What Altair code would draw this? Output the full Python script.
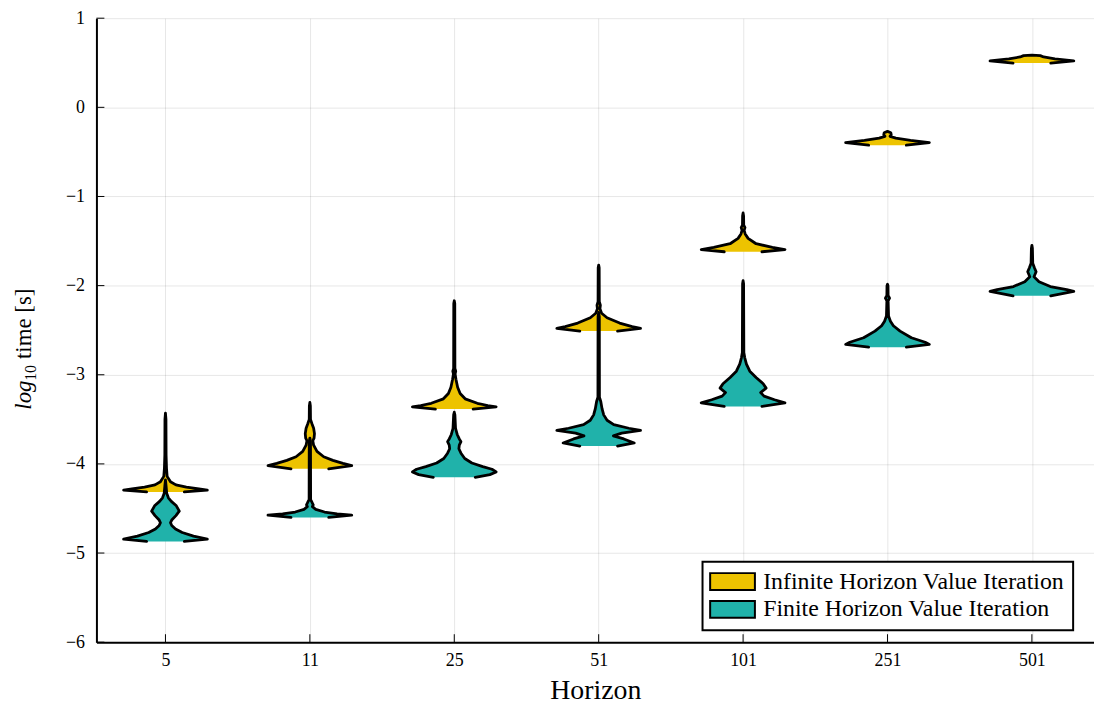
import json
import altair as alt
import pandas as pd

# ---------------- data ----------------
horizons = ["5", "11", "25", "51", "101", "251", "501"]
series = ["Infinite Horizon Value Iteration", "Finite Horizon Value Iteration"]
colors = ["#EDC300", "#20B2AA"]
y_ticks = [1, 0, -1, -2, -3, -4, -5, -6]

# violin profiles: log10 time levels (top -> bottom) and relative density width (max = 1)
inf_levels = [
    [-3.43, -3.50, -3.90, -4.05, -4.14, -4.20, -4.235, -4.26, -4.28, -4.295, -4.315],
    [-3.31, -3.35, -3.50, -3.55, -3.60, -3.66, -3.71, -3.74, -3.79, -3.86, -3.92, -3.96, -3.995, -4.02, -4.055],
    [-2.17, -2.20, -2.93, -2.96, -2.99, -3.05, -3.14, -3.21, -3.27, -3.32, -3.345, -3.36, -3.385],
    [-1.77, -1.80, -2.18, -2.22, -2.26, -2.31, -2.36, -2.42, -2.46, -2.48, -2.51],
    [-1.185, -1.22, -1.32, -1.35, -1.38, -1.42, -1.47, -1.53, -1.57, -1.595, -1.62],
    [-0.27, -0.285, -0.31, -0.325, -0.345, -0.37, -0.395, -0.425],
    [0.585, 0.58, 0.565, 0.545, 0.52, 0.497],
]
inf_widths = [
    [0.0, 0.012, 0.015, 0.025, 0.04, 0.12, 0.25, 0.5, 0.8, 1.0, 0.45],
    [0.0, 0.012, 0.015, 0.05, 0.09, 0.11, 0.10, 0.07, 0.09, 0.17, 0.33, 0.55, 0.79, 1.0, 0.45],
    [0.0, 0.012, 0.015, 0.035, 0.02, 0.04, 0.08, 0.14, 0.26, 0.55, 0.8, 1.0, 0.45],
    [0.0, 0.012, 0.015, 0.04, 0.03, 0.07, 0.20, 0.50, 0.80, 1.0, 0.45],
    [0.0, 0.012, 0.015, 0.045, 0.025, 0.05, 0.12, 0.31, 0.70, 1.0, 0.45],
    [0.0, 0.08, 0.09, 0.06, 0.20, 0.55, 1.0, 0.45],
    [0.0, 0.20, 0.28, 0.55, 1.0, 0.45],
]
fin_levels = [
    [-4.18, -4.25, -4.33, -4.38, -4.42, -4.47, -4.53, -4.58, -4.63, -4.66, -4.69, -4.73, -4.77, -4.81, -4.845, -4.87],
    [-3.71, -3.75, -4.40, -4.43, -4.46, -4.48, -4.51, -4.54, -4.56, -4.575, -4.60],
    [-3.42, -3.45, -3.60, -3.67, -3.72, -3.75, -3.79, -3.83, -3.88, -3.94, -3.99, -4.03, -4.06, -4.09, -4.12, -4.15],
    [-2.30, -2.35, -3.25, -3.30, -3.38, -3.45, -3.51, -3.56, -3.60, -3.625, -3.655, -3.685, -3.72, -3.765, -3.80],
    [-1.944, -1.98, -2.75, -2.81, -2.88, -2.96, -3.03, -3.10, -3.15, -3.20, -3.24, -3.28, -3.315, -3.355],
    [-1.985, -2.00, -2.11, -2.14, -2.17, -2.34, -2.40, -2.45, -2.51, -2.585, -2.635, -2.66, -2.69],
    [-1.548, -1.58, -1.75, -1.80, -1.845, -1.90, -1.956, -2.01, -2.045, -2.065, -2.115],
]
fin_widths = [
    [0.0, 0.015, 0.03, 0.07, 0.14, 0.26, 0.33, 0.25, 0.15, 0.12, 0.15, 0.24, 0.40, 0.67, 1.0, 0.45],
    [0.0, 0.015, 0.018, 0.05, 0.08, 0.06, 0.14, 0.35, 0.65, 1.0, 0.45],
    [0.0, 0.015, 0.03, 0.07, 0.12, 0.16, 0.12, 0.11, 0.16, 0.25, 0.42, 0.68, 0.90, 1.0, 0.85, 0.5],
    [0.0, 0.015, 0.018, 0.05, 0.08, 0.12, 0.20, 0.36, 0.72, 1.0, 0.55, 0.35, 0.60, 0.85, 0.45],
    [0.0, 0.012, 0.018, 0.04, 0.08, 0.16, 0.31, 0.48, 0.55, 0.42, 0.50, 0.75, 1.0, 0.45],
    [0.0, 0.012, 0.015, 0.05, 0.015, 0.025, 0.07, 0.14, 0.30, 0.57, 0.90, 1.0, 0.45],
    [0.0, 0.012, 0.02, 0.06, 0.10, 0.05, 0.17, 0.44, 0.83, 1.0, 0.45],
]

# ---------------- table ----------------
rows = []
for s, levels, widths in ((series[0], inf_levels, inf_widths), (series[1], fin_levels, fin_widths)):
    for i, h in enumerate(horizons):
        n = len(levels[i])
        for k, (v, w) in enumerate(zip(levels[i], widths[i])):
            rows.append({"series": s, "horizon": h, "pos": i, "value": v,
                         "dens": w, "k": k, "n": n})
df = pd.DataFrame(rows)
ticks_df = pd.DataFrame({"value": y_ticks})
xt_df = pd.DataFrame({"pos": list(range(len(horizons)))})

HALF = 0.29
FONT = "Liberation Serif"
W, H = 1004, 628
TOP = 8

x_scale = alt.Scale(domain=[-0.478, 6.43], nice=False, zero=False)
y_scale = alt.Scale(domain=[-6, 1], nice=False, zero=False)

label_expr = json.dumps(horizons) + "[datum.value]"
X_AXIS = alt.Axis(values=list(range(len(horizons))), labelExpr=label_expr,
                  title="Horizon", grid=True, ticks=False, tickSize=0,
                  labelPadding=9, titlePadding=8)
Y_AXIS = alt.Axis(values=y_ticks, title=None, grid=True,
                  labelExpr="datum.value < 0 ? '\u2212' + abs(datum.value) : '' + datum.value",
                  ticks=False, tickSize=0, labelPadding=12)


def X(field):
    return alt.X(field, scale=x_scale, axis=X_AXIS)


def Y(field):
    return alt.Y(field, scale=y_scale, axis=Y_AXIS)


def area_layer(s):
    return alt.Chart(df).transform_filter(
        alt.datum.series == s
    ).transform_calculate(
        lo=f"datum.pos - {HALF} * datum.dens",
        hi=f"datum.pos + {HALF} * datum.dens",
    ).mark_area(orient="horizontal", opacity=1).encode(
        y=Y("value:Q"),
        x=X("lo:Q"),
        x2="hi:Q",
        detail="horizon:N",
        color=alt.Color(
            "series:N",
            scale=alt.Scale(domain=series, range=colors),
            legend=alt.Legend(
                title=None, orient="none", legendX=610, legendY=547,
                direction="vertical",
                symbolType="M-1.45,-1H3.85V1H-1.45Z", symbolSize=289,
                symbolStrokeColor="black", symbolStrokeWidth=2, symbolOpacity=1,
                labelFont=FONT, labelFontSize=24, labelColor="black", labelLimit=600,
                labelOffset=29, rowPadding=2,
                fillColor="white", strokeColor="black", padding=8,
            ),
        ),
    )


def edge_layer(s):
    return alt.Chart(df).transform_filter(
        alt.datum.series == s
    ).transform_calculate(
        left=f"datum.pos - {HALF} * datum.dens",
        right=f"datum.pos + {HALF} * datum.dens",
    ).transform_fold(
        ["left", "right"], as_=["side", "xpos"]
    ).transform_calculate(
        seq="datum.side == 'left' ? (datum.n - 1 - datum.k) : (datum.n + datum.k)"
    ).mark_line(color="black", strokeWidth=2.8, strokeJoin="round", strokeCap="round").encode(
        x=X("xpos:Q"),
        y=Y("value:Q"),
        detail="horizon:N",
        order="seq:Q",
    )


ytick_layer = alt.Chart(ticks_df).mark_rule(color="black", strokeWidth=1).encode(
    y=Y("value:Q"),
    x=alt.value(0), x2=alt.value(8),
)
xtick_layer = alt.Chart(xt_df).mark_rule(color="black", strokeWidth=1).encode(
    x=X("pos:Q"),
    y=alt.value(H - 8), y2=alt.value(H),
)

one = pd.DataFrame({"a": [0]})
t_log = alt.Chart(one).mark_text(font=FONT, fontSize=23, fontStyle="italic", angle=270,
                                 align="left", baseline="alphabetic").encode(
    x=alt.value(-66), y=alt.value(394), text=alt.value("log"))
t_sub = alt.Chart(one).mark_text(font=FONT, fontSize=16, angle=270,
                                 align="left", baseline="alphabetic").encode(
    x=alt.value(-61), y=alt.value(365), text=alt.value("10"))
t_rest = alt.Chart(one).mark_text(font=FONT, fontSize=23, angle=270,
                                  align="left", baseline="alphabetic").encode(
    x=alt.value(-66), y=alt.value(343), text=alt.value("time [s]"))

chart = alt.layer(
    area_layer(series[0]),
    edge_layer(series[0]),
    area_layer(series[1]),
    edge_layer(series[1]),
    ytick_layer,
    xtick_layer,
    t_log, t_sub, t_rest,
).properties(
    width=W, height=H,
    autosize=alt.AutoSizeParams(type="none"),
    padding={"left": 89, "top": TOP, "right": 0, "bottom": 67},
).configure_view(
    strokeWidth=0
).configure_axis(
    labelFont=FONT, labelFontSize=18, labelColor="black",
    titleFont=FONT, titleFontSize=28, titleFontWeight="normal", titleColor="black",
    domainColor="black", domainWidth=2,
    gridColor="black", gridOpacity=0.1, gridWidth=1,
).configure_legend(
    strokeWidth=2,
)

chart.save("out.html", embed_options={"renderer": "svg", "actions": False})
